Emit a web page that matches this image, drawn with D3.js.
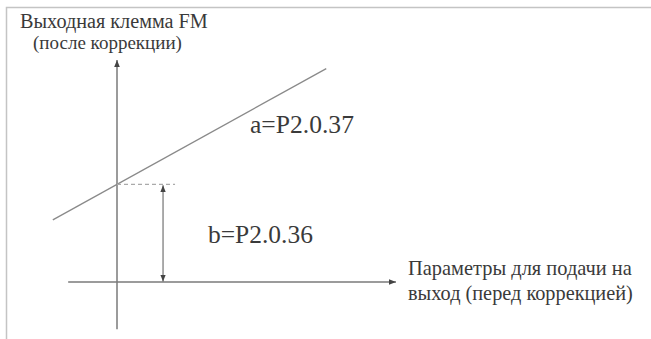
<!DOCTYPE html>
<html><head><meta charset="utf-8">
<script src="https://cdn.jsdelivr.net/npm/d3@7"></script>
<style>html,body{margin:0;padding:0;background:#fff;overflow:hidden}</style>
</head><body>
<script>
// ---- data (schematic units; origin at axes crossing) ----
const xAxisExtent = [-1.75, 10];
const yAxisExtent = [-1.7, 8];
const intercept = 3.52;           // b = P2.0.36
const slope = 0.556;              // a = P2.0.37
const lineX = [-2.3, 7.5];
const dashEndX = 2.08;
const bArrowX = 1.65;
const yTitle = ["Выходная клемма FM", "(после коррекции)"];
const xTitle = ["Параметры для подачи на", "выход (перед коррекцией)"];
const aLabel = "a=P2.0.37";
const bLabel = "b=P2.0.36";

const W = 651, H = 339;
const x = d3.scaleLinear().domain([0, 10]).range([117, 396]);
const y = d3.scaleLinear().domain([0, 8]).range([282, 60]);

const svg = d3.select("body").append("svg").attr("width", W).attr("height", H);
const defs = svg.append("defs");
function marker(id, orient) {
  defs.append("marker").attr("id", id).attr("viewBox", "0 0 10 10")
    .attr("refX", 10).attr("refY", 5).attr("markerWidth", 7).attr("markerHeight", 7)
    .attr("markerUnits", "userSpaceOnUse").attr("orient", orient)
    .append("path").attr("d", "M0,1 L10,5 L0,9 Z").attr("fill", "#444");
}
marker("arr", "auto");
marker("arrS", "auto-start-reverse");

// frame
svg.append("path").attr("d", `M6.5,${H} L6.5,7.5 L${W},7.5`)
  .attr("fill", "none").attr("stroke", "#c4c4c4").attr("stroke-width", 1.5);

const axisColor = "#7a7a7a";
svg.append("line").attr("x1", x(xAxisExtent[0])).attr("x2", x(xAxisExtent[1]))
  .attr("y1", y(0)).attr("y2", y(0)).attr("stroke", axisColor).attr("stroke-width", 1.5)
  .attr("marker-end", "url(#arr)");
svg.append("line").attr("x1", x(0)).attr("x2", x(0))
  .attr("y1", y(yAxisExtent[0])).attr("y2", y(yAxisExtent[1])).attr("stroke", axisColor).attr("stroke-width", 1.5)
  .attr("marker-end", "url(#arr)");

const line = d3.line().x(d => x(d)).y(d => y(intercept + slope * d));
svg.append("path").datum(lineX).attr("d", line)
  .attr("fill", "none").attr("stroke", "#8a8a8a").attr("stroke-width", 1.3);

svg.append("line").attr("x1", x(0)).attr("x2", x(dashEndX))
  .attr("y1", y(intercept)).attr("y2", y(intercept))
  .attr("stroke", "#aaa").attr("stroke-width", 1.2).attr("stroke-dasharray", "4,3");

svg.append("line").attr("x1", x(bArrowX)).attr("x2", x(bArrowX))
  .attr("y1", y(intercept) + 1).attr("y2", y(0) - 0.5)
  .attr("stroke", "#666").attr("stroke-width", 1.1)
  .attr("marker-start", "url(#arrS)").attr("marker-end", "url(#arr)");

const font = "'Liberation Serif', 'Times New Roman', serif";
const tc = "#3a3a3a";
function txt(t, px, py, width) {
  const el = svg.append("text").attr("x", px).attr("y", py).text(t)
    .attr("font-family", font).attr("font-size", 20).attr("fill", tc);
  const len = el.node().getComputedTextLength();
  el.attr("font-size", (20 * width / len).toFixed(2));
}
txt(yTitle[0], 20, 28, 188);
txt(yTitle[1], 33, 49, 149);
txt(xTitle[0], 408, 275, 224);
txt(xTitle[1], 408, 300, 225);
txt(aLabel, 250, 133, 104);
txt(bLabel, 208, 243, 105);
</script>
</body></html>
